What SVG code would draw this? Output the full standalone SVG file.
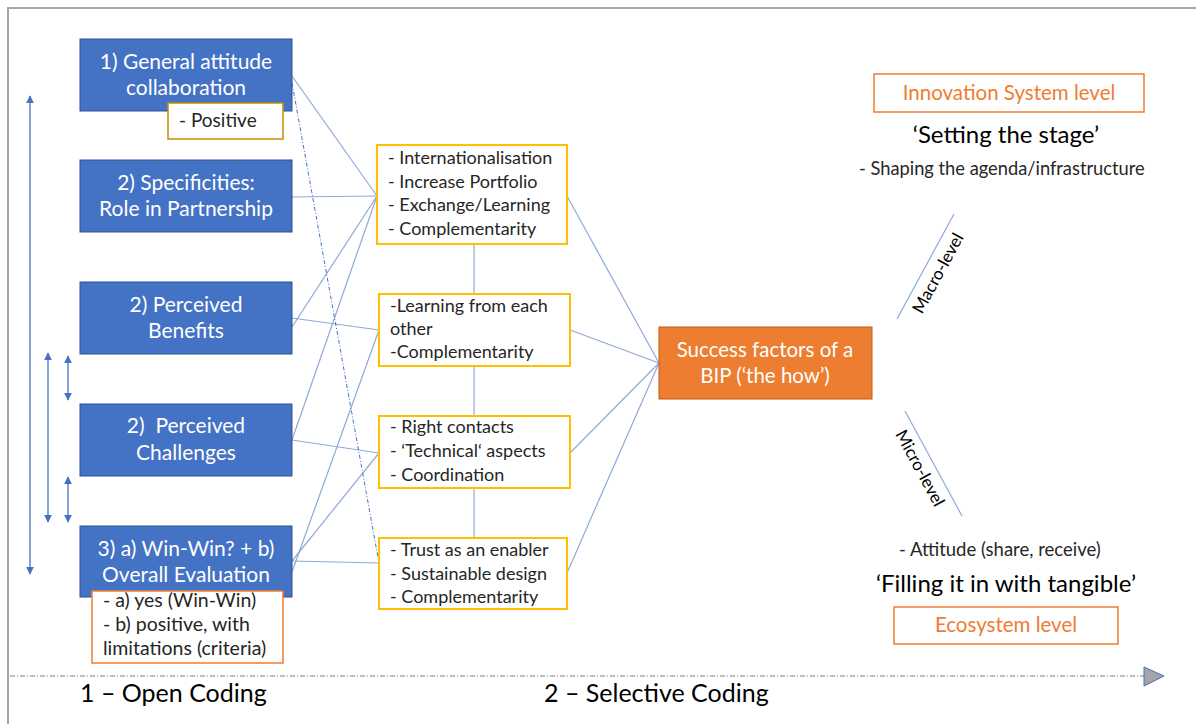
<svg xmlns="http://www.w3.org/2000/svg" width="1196" height="724" viewBox="0 0 1196 724">
<defs>
<style>
text{font-family:Lato,"Open Sans","Liberation Sans",sans-serif}
.blue{fill:#4472C4;stroke:#2F528F;stroke-width:1}
.bt{fill:#fff;font-size:21px;text-anchor:middle}
.mid{fill:#fff;stroke:#FFC000;stroke-width:2}
.mt{fill:#262626;font-size:18px}
.conn{stroke:#8EA9DB;stroke-width:1.2;fill:none}
.lvl{fill:#fff;stroke:#ED7D31;stroke-width:1.5}
.lt{fill:#ED7D31;font-size:20.5px;text-anchor:middle}
.arr{stroke:#4472C4;stroke-width:1.3;fill:none}
.nt{fill:#262626;font-size:19.5px}
</style>
<marker id="ah" viewBox="0 0 10 10" refX="9" refY="5" markerWidth="8" markerHeight="8" orient="auto-start-reverse" markerUnits="userSpaceOnUse">
<path d="M0,0 L10,5 L0,10 z" fill="#4472C4"/>
</marker>
</defs>
<rect x="0" y="0" width="1196" height="724" fill="#fff"/>
<path d="M8,724 V8 H1196" fill="none" stroke="#A6A6A6" stroke-width="2"/>

<g id="side-arrows">
<line class="arr" x1="30" y1="96" x2="30" y2="574" marker-start="url(#ah)" marker-end="url(#ah)"/>
<line class="arr" x1="48" y1="353" x2="48" y2="522" marker-start="url(#ah)" marker-end="url(#ah)"/>
<line class="arr" x1="68" y1="356" x2="68" y2="400" marker-start="url(#ah)" marker-end="url(#ah)"/>
<line class="arr" x1="68" y1="477" x2="68" y2="522" marker-start="url(#ah)" marker-end="url(#ah)"/>
</g>

<g id="connectors">
<line class="conn" x1="292" y1="76" x2="377" y2="196"/>
<line class="conn" x1="292" y1="197" x2="377" y2="196"/>
<line class="conn" x1="292" y1="327" x2="377" y2="196"/>
<line class="conn" x1="292" y1="318" x2="379" y2="330"/>
<line class="conn" x1="292" y1="440" x2="377" y2="196"/>
<line class="conn" x1="292" y1="440" x2="379" y2="453"/>
<line class="conn" x1="292" y1="572" x2="379" y2="330"/>
<line class="conn" x1="292" y1="561" x2="379" y2="453"/>
<line class="conn" x1="292" y1="561" x2="379" y2="563"/>
<line x1="292" y1="83" x2="379" y2="563" stroke="#4472C4" stroke-width="1" stroke-dasharray="4 2 1 2"/>
<line class="conn" x1="474" y1="244" x2="474" y2="294"/>
<line class="conn" x1="474" y1="366" x2="474" y2="416"/>
<line class="conn" x1="474" y1="488" x2="474" y2="538"/>
<line class="conn" x1="567" y1="196" x2="659" y2="363"/>
<line class="conn" x1="570" y1="330" x2="659" y2="363"/>
<line class="conn" x1="570" y1="453" x2="659" y2="363"/>
<line class="conn" x1="567" y1="573" x2="659" y2="363"/>
</g>

<g id="n1">
<rect class="blue" x="80" y="39" width="212" height="72"/>
<text class="bt" x="186" y="69">1) General attitude</text>
<text class="bt" x="186" y="95">collaboration</text>
</g>
<g id="n1-note">
<rect x="168" y="103" width="115" height="36" fill="#fff" stroke="#BF9000" stroke-width="1.5"/>
<text x="179" y="127" fill="#262626" font-size="19">- Positive</text>
</g>
<g id="n2">
<rect class="blue" x="80" y="160" width="212" height="72"/>
<text class="bt" x="186" y="190">2) Specificities:</text>
<text class="bt" x="186" y="216">Role in Partnership</text>
</g>
<g id="n3">
<rect class="blue" x="80" y="282" width="212" height="72"/>
<text class="bt" x="186" y="312">2) Perceived</text>
<text class="bt" x="186" y="338">Benefits</text>
</g>
<g id="n4">
<rect class="blue" x="80" y="404" width="212" height="72"/>
<text class="bt" x="186" y="433" xml:space="preserve">2)  Perceived</text>
<text class="bt" x="186" y="460">Challenges</text>
</g>
<g id="n5">
<rect class="blue" x="80" y="526" width="212" height="71"/>
<text class="bt" x="186" y="556">3) a) Win-Win? + b)</text>
<text class="bt" x="186" y="582">Overall Evaluation</text>
</g>
<g id="n5-note">
<rect x="92" y="591" width="191" height="72" fill="#fff" stroke="#ED7D31" stroke-width="1.5"/>
<text class="nt" x="103" y="607">- a) yes (Win-Win)</text>
<text class="nt" x="103" y="631">- b) positive, with</text>
<text class="nt" x="103" y="655">limitations (criteria)</text>
</g>

<g id="m1">
<rect class="mid" x="377" y="145" width="190" height="99"/>
<text class="mt" x="388" y="164">- Internationalisation</text>
<text class="mt" x="388" y="188">- Increase Portfolio</text>
<text class="mt" x="388" y="211">- Exchange/Learning</text>
<text class="mt" x="388" y="235">- Complementarity</text>
</g>
<g id="m2">
<rect class="mid" x="379" y="294" width="191" height="72"/>
<text class="mt" x="390" y="312">-Learning from each</text>
<text class="mt" x="390" y="335">other</text>
<text class="mt" x="390" y="358">-Complementarity</text>
</g>
<g id="m3">
<rect class="mid" x="379" y="416" width="191" height="72"/>
<text class="mt" x="390" y="433">- Right contacts</text>
<text class="mt" x="390" y="457">- ‘Technical‘ aspects</text>
<text class="mt" x="390" y="481">- Coordination</text>
</g>
<g id="m4">
<rect class="mid" x="379" y="538" width="188" height="71"/>
<text class="mt" x="390" y="556">- Trust as an enabler</text>
<text class="mt" x="390" y="580">- Sustainable design</text>
<text class="mt" x="390" y="603">- Complementarity</text>
</g>

<g id="center">
<rect x="659" y="327" width="213" height="72" fill="#ED7D31" stroke="#C55A11" stroke-width="1"/>
<text x="765" y="357" fill="#fff" font-size="20.5" text-anchor="middle">Success factors of a</text>
<text x="765" y="383" fill="#fff" font-size="20.5" text-anchor="middle">BIP (‘the how’)</text>
</g>

<g id="innovation-level">
<rect class="lvl" x="874" y="74" width="270" height="38"/>
<text class="lt" x="1009" y="100" font-size="21">Innovation System level</text>
<text x="1006" y="143" fill="#000" font-size="24" text-anchor="middle">‘Setting the stage’</text>
<text x="859" y="175" fill="#262626" font-size="18.3">- Shaping the agenda/infrastructure</text>
</g>
<g id="macro">
<line x1="954" y1="214" x2="897" y2="319" stroke="#8EA9DB" stroke-width="1.2"/>
<text x="0" y="0" font-size="17" fill="#000" text-anchor="middle" transform="translate(943,276) rotate(-61.5)">Macro-level</text>
</g>
<g id="micro">
<line x1="905" y1="411" x2="962" y2="516" stroke="#8EA9DB" stroke-width="1.2"/>
<text x="0" y="0" font-size="17" fill="#000" text-anchor="middle" transform="translate(915,471) rotate(61.5)">Micro-level</text>
</g>
<g id="eco-level">
<text x="899" y="556" fill="#262626" font-size="18.5">- Attitude (share, receive)</text>
<text x="1006" y="592" fill="#000" font-size="24" text-anchor="middle">‘Filling it in with tangible’</text>
<rect class="lvl" x="894" y="607" width="224" height="37"/>
<text class="lt" x="1006" y="632">Ecosystem level</text>
</g>

<g id="timeline">
<line x1="10" y1="676" x2="1144" y2="676" stroke="#7F7F7F" stroke-width="1" stroke-dasharray="5 2 1 2"/>
<path d="M1144,667 L1164,676 L1144,686 z" fill="#A5A5A5" stroke="#4472C4" stroke-width="1"/>
<text x="80" y="702" fill="#000" font-size="25">1 – Open Coding</text>
<text x="544" y="702" fill="#000" font-size="25">2 – Selective Coding</text>
</g>
</svg>
